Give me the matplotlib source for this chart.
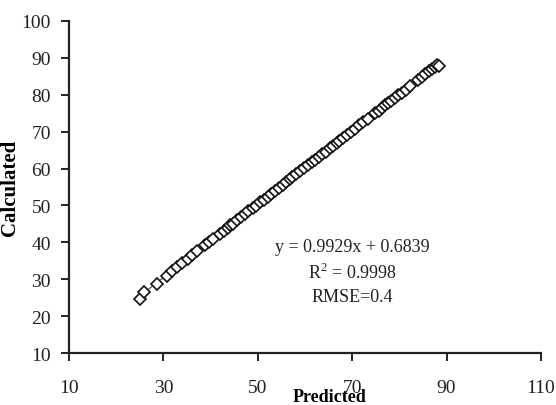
import numpy as np
import matplotlib
matplotlib.use("Agg")
import matplotlib.pyplot as plt

predicted = [25.0, 25.9, 28.6, 30.7, 31.8, 32.9, 33.9, 35.2, 36.1, 37.1, 38.9, 39.6,
             40.5, 41.9, 42.8, 43.6, 44.2, 44.7, 45.7, 46.4, 47.2, 48.0, 48.9, 49.6,
             50.5, 51.3, 52.1, 52.9, 53.6, 54.4, 55.3, 56.0, 56.8, 57.3, 58.1, 59.0,
             59.8, 60.6, 61.5, 62.1, 62.9, 63.7, 64.4, 65.3, 66.0, 66.8, 67.3, 68.1,
             69.0, 69.8, 70.6, 71.5, 72.4, 73.3, 74.8, 75.6, 76.3, 77.0, 77.6, 78.3,
             79.0, 79.8, 80.5, 81.3, 82.3, 83.9, 84.7, 85.5, 86.2, 86.9, 87.5, 88.0, 88.4]
calculated = [24.6, 26.5, 28.8, 31.0, 32.2, 33.3, 34.4, 35.6, 36.5, 37.6, 39.3, 40.1,
              40.9, 42.3, 43.2, 44.0, 44.6, 45.1, 46.1, 46.8, 47.6, 48.4, 49.2, 49.9,
              50.8, 51.6, 52.4, 53.2, 53.9, 54.7, 55.6, 56.3, 57.1, 57.6, 58.4, 59.3,
              60.1, 60.9, 61.7, 62.4, 63.1, 63.9, 64.6, 65.5, 66.2, 67.0, 67.5, 68.3,
              69.2, 70.0, 70.8, 71.7, 72.6, 73.5, 75.0, 75.7, 76.4, 77.1, 77.7, 78.4,
              79.1, 79.9, 80.6, 81.4, 82.4, 84.0, 84.8, 85.6, 86.3, 87.0, 87.5, 88.0, 87.9]
x_ticks = [10, 30, 50, 70, 90, 110]
y_ticks = [10, 20, 30, 40, 50, 60, 70, 80, 90, 100]
annotation = "y = 0.9929x + 0.6839\nR$^{2}$ = 0.9998\nRMSE=0.4"

plt.rcParams['font.family'] = ['Liberation Serif', 'DejaVu Serif']
plt.rcParams['mathtext.fontset'] = 'custom'
plt.rcParams['mathtext.rm'] = 'Liberation Serif'

fig = plt.figure(figsize=(5.56, 4.06), dpi=100)
ax = fig.add_axes([0.124, 0.128, 0.849, 0.818])

xp = np.array(predicted)
yc = np.array(calculated)
coef = np.polyfit(xp, yc, 1)
xl = np.array([xp.min(), xp.max()])
ax.plot(xl, np.polyval(coef, xl), color='#444444', lw=0.8, zorder=1)
ax.plot(xp, yc, linestyle='none', marker='D', markersize=6,
        markerfacecolor='white', markeredgecolor='#111111', markeredgewidth=1.2, zorder=2)

ax.set_xlim(10, 110)
ax.set_ylim(10, 100)
ax.set_xticks(x_ticks)
ax.set_yticks(y_ticks)
ax.spines['top'].set_visible(False)
ax.spines['right'].set_visible(False)
for s in ['left', 'bottom']:
    ax.spines[s].set_linewidth(1.6)
    ax.spines[s].set_color('#222222')
ax.tick_params(axis='both', direction='out', length=6, width=1.4, color='#222222',
               labelsize=14, labelcolor='#222222')
ax.tick_params(axis='x', pad=13)
ax.tick_params(axis='y', pad=7)

ax.set_xlabel('Predicted', fontsize=13, fontweight='bold')
ax.set_ylabel('Calculated', fontsize=15, fontweight='bold')
ax.xaxis.set_label_coords(0.553, -0.105)
ax.yaxis.set_label_coords(-0.104, 0.5)

ax.text(70.0, 32.2, annotation, ha='center', va='center', multialignment='center',
        fontsize=13, linespacing=1.45, color='#222222')

fig.savefig('out.png', dpi=100, facecolor='white')
